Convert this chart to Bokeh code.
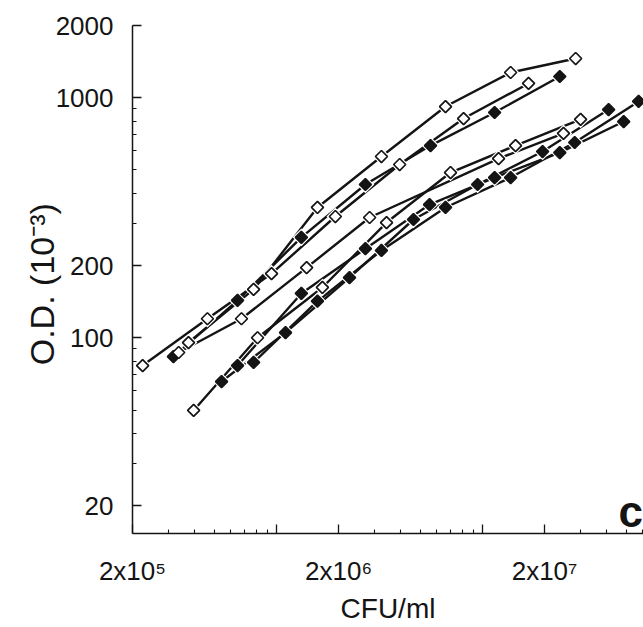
import math
from bokeh.plotting import figure
from bokeh.models import FixedTicker, CustomJSTickFormatter, Label
from bokeh.embed import file_html
from bokeh.resources import INLINE

# ---- tick labels ----
x_tick_values = [2e5, 2e6, 2e7]
x_tick_labels = ["2x10\u2075", "2x10\u2076", "2x10\u2077"]
x_extra_majors = [1e6, 1e7]
x_minor_values = [3e5, 4e5, 5e5, 6e5, 7e5, 8e5, 9e5,
                  3e6, 4e6, 5e6, 6e6, 7e6, 8e6, 9e6,
                  3e7, 4e7, 5e7, 6e7]
y_tick_values = [20, 100, 200, 1000, 2000]
y_tick_labels = ["20", "100", "200", "1000", "2000"]
y_minor_values = [30, 40, 50, 60, 70, 80, 90,
                  300, 400, 500, 600, 700, 800, 900]

# ---- data (CFU/ml, O.D. x 10^-3) ----
a_x = [3.74e5, 7.74e5, 1.58e6, 3.23e6, 6.61e6, 1.368e7, 2.83e7]
a_y = [95.5, 159, 349, 569, 919, 1274, 1457]
b_x = [2.24e5, 4.62e5, 9.46e5, 1.93e6, 3.96e6, 8.09e6, 1.672e7]
b_y = [76.6, 120, 185, 320, 527, 819, 1147]
c_x = [3.16e5, 6.47e5, 1.32e6, 2.70e6, 5.59e6, 1.144e7, 2.37e7]
c_y = [83.5, 143, 262, 435, 632, 868, 1226]
d_x = [3.35e5, 6.76e5, 1.40e6, 2.83e6, 1.196e7, 2.47e7]
d_y = [86.8, 120, 196, 317, 558, 710]
e_x = [3.96e5, 8.09e5, 1.67e6, 3.42e6, 6.99e6, 1.446e7, 2.99e7]
e_y = [49.8, 100, 162, 302, 488, 632, 812]
f1_x = [5.41e5, 1.106e6, 2.26e6, 4.62e6, 9.46e6, 1.956e7, 4.09e7]
f1_y = [65.7, 105, 178, 311, 435, 597, 893]
f2_x = [6.47e5, 1.32e6, 2.70e6, 5.53e6, 1.144e7, 2.37e7, 4.84e7]
f2_y = [76.6, 153, 235, 359, 465, 591, 796]
f3_x = [7.74e5, 1.58e6, 3.23e6, 6.61e6, 1.368e7, 2.80e7, 5.72e7]
f3_y = [78.9, 142, 231, 349, 465, 651, 965]

series = [
    (a_x, a_y, False), (b_x, b_y, False), (c_x, c_y, True),
    (d_x, d_y, False), (e_x, e_y, False),
    (f1_x, f1_y, True), (f2_x, f2_y, True), (f3_x, f3_y, True),
]

FONT = "Liberation Sans"
INK = "#141414"

p = figure(width=643, height=627, x_axis_type="log", y_axis_type="log",
           x_range=(2e5, 6.04e7), y_range=(15.29, 2000),
           output_backend="svg", toolbar_location=None,
           min_border_left=132, min_border_right=0,
           min_border_top=25, min_border_bottom=94)
p.outline_line_color = None
p.xgrid.visible = False
p.ygrid.visible = False
p.background_fill_color = "white"

for xs, ys, filled in series:
    p.line(xs, ys, line_color=INK, line_width=2.4)
for xs, ys, filled in series:
    p.scatter(xs, ys, marker="square", angle=math.pi / 4, size=12.5,
              fill_color="white", line_color=None)
for xs, ys, filled in series:
    p.scatter(xs, ys, marker="square", angle=math.pi / 4, size=8.5,
              fill_color=INK if filled else "white", line_color=INK, line_width=1.7)

fmt_code = """
for (let i = 0; i < vals.length; i++) {
  if (Math.abs(Math.log10(vals[i]) - Math.log10(tick)) < 1e-6) return labs[i];
}
return "";
"""
xfmt = CustomJSTickFormatter(args=dict(vals=x_tick_values, labs=x_tick_labels), code=fmt_code)
yfmt = CustomJSTickFormatter(args=dict(vals=y_tick_values, labs=y_tick_labels), code=fmt_code)

xa = p.xaxis[0]
xa.ticker = FixedTicker(ticks=sorted(x_tick_values + x_extra_majors), minor_ticks=x_minor_values)
xa.formatter = xfmt
ya = p.yaxis[0]
ya.ticker = FixedTicker(ticks=y_tick_values, minor_ticks=y_minor_values)
ya.formatter = yfmt

for ax in (xa, ya):
    ax.axis_line_color = INK
    ax.axis_line_width = 1.5
    ax.major_tick_line_color = INK
    ax.minor_tick_line_color = INK
    ax.major_tick_line_width = 1.3
    ax.minor_tick_line_width = 1.1
    ax.major_tick_in = 9
    ax.major_tick_out = 0
    ax.minor_tick_in = 4
    ax.minor_tick_out = 0
    ax.major_label_text_font = FONT
    ax.major_label_text_font_size = "26px"
    ax.major_label_text_color = INK
    ax.axis_label_text_font = FONT
    ax.axis_label_text_font_style = "normal"
    ax.axis_label_text_color = INK

xa.axis_label = "CFU/ml"
xa.axis_label_text_font_size = "28px"
xa.major_label_standoff = 22
xa.axis_label_standoff = 4
ya.axis_label = "O.D.  (10\u207b\u00b3)"
ya.axis_label_text_font_size = "34px"
ya.major_label_standoff = 19
ya.axis_label_standoff = -8

p.add_layout(Label(x=6.0e7, y=18.8, text="c", text_align="right", text_baseline="middle",
                   text_font=FONT, text_font_style="bold", text_font_size="44px",
                   text_color=INK))

open("out.html", "w").write(file_html(p, INLINE))
